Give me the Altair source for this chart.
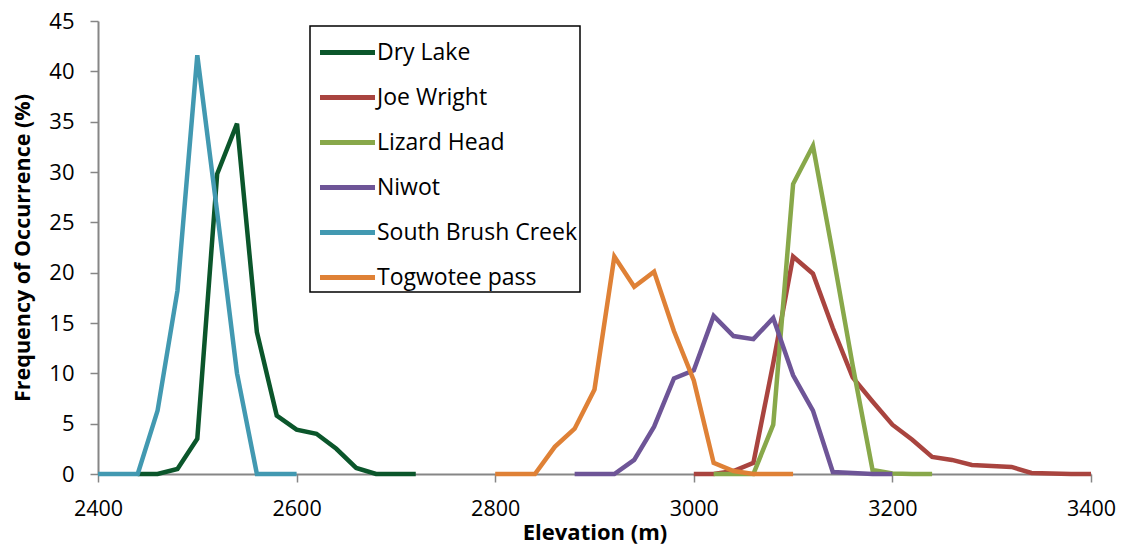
import altair as alt
import pandas as pd

series_names = ["Dry Lake", "Joe Wright", "Lizard Head", "Niwot", "South Brush Creek", "Togwotee pass"]
colors = ["#0b562b", "#a9443f", "#88a84a", "#6e5597", "#4299b1", "#df8136"]

dry_lake_x = [2440, 2460, 2480, 2500, 2520, 2540, 2560, 2580, 2600, 2620, 2640, 2660, 2680, 2700, 2720]
dry_lake_y = [0, 0, 0.5, 3.5, 29.8, 34.8, 14.1, 5.8, 4.4, 4.0, 2.5, 0.6, 0, 0, 0]

joe_wright_x = [3000, 3020, 3040, 3060, 3080, 3100, 3120, 3140, 3160, 3180, 3200, 3220, 3240, 3260, 3280,
                3300, 3320, 3340, 3360, 3380, 3400]
joe_wright_y = [0, 0, 0.3, 1.1, 11.0, 21.6, 19.9, 14.5, 9.6, 7.2, 4.9, 3.4, 1.7, 1.4, 0.9,
                0.8, 0.7, 0.1, 0.05, 0, 0]

lizard_head_x = [3020, 3040, 3060, 3080, 3100, 3120, 3140, 3160, 3180, 3200, 3220, 3240]
lizard_head_y = [0, 0, 0, 4.9, 28.8, 32.6, 21.9, 10.8, 0.4, 0.05, 0, 0]

niwot_x = [2880, 2900, 2920, 2940, 2960, 2980, 3000, 3020, 3040, 3060, 3080, 3100, 3120, 3140, 3160, 3180, 3200]
niwot_y = [0, 0, 0, 1.4, 4.7, 9.5, 10.3, 15.7, 13.7, 13.4, 15.5, 9.8, 6.3, 0.2, 0.1, 0, 0]

sbc_x = [2400, 2420, 2440, 2460, 2480, 2500, 2520, 2540, 2560, 2580, 2600]
sbc_y = [0, 0, 0, 6.3, 18.2, 41.6, 26.0, 10.0, 0, 0, 0]

togwotee_x = [2800, 2820, 2840, 2860, 2880, 2900, 2920, 2940, 2960, 2980, 3000, 3020, 3040, 3060, 3080, 3100]
togwotee_y = [0, 0, 0, 2.7, 4.5, 8.4, 21.6, 18.6, 20.1, 14.2, 9.3, 1.1, 0.3, 0, 0, 0]

x_ticks = [2400, 2600, 2800, 3000, 3200, 3400]
y_ticks = [0, 5, 10, 15, 20, 25, 30, 35, 40, 45]

all_x = [dry_lake_x, joe_wright_x, lizard_head_x, niwot_x, sbc_x, togwotee_x]
all_y = [dry_lake_y, joe_wright_y, lizard_head_y, niwot_y, sbc_y, togwotee_y]

rows = []
for name, xs, ys in zip(series_names, all_x, all_y):
    for i, (x, y) in enumerate(zip(xs, ys)):
        rows.append({"Site": name, "Elevation": x, "Freq": y, "order": i})
df = pd.DataFrame(rows)

font = "Open Sans"

chart = alt.Chart(df).mark_line(strokeWidth=4.5, strokeJoin="miter", strokeCap="butt").encode(
    x=alt.X("Elevation:Q", title="Elevation (m)",
            scale=alt.Scale(domain=[2400, 3400], nice=False, zero=False),
            axis=alt.Axis(values=x_ticks, grid=False, format="d", labelFlush=False,
                          labelFontSize=21.5, labelPadding=16, titlePadding=3, titleFontSize=22)),
    y=alt.Y("Freq:Q", title="Frequency of Occurrence (%)",
            scale=alt.Scale(domain=[0, 45], nice=False),
            axis=alt.Axis(values=y_ticks, grid=False, labelFlush=False,
                          labelFontSize=22, labelPadding=16, titlePadding=14, titleFontSize=21.5)),
    color=alt.Color("Site:N", scale=alt.Scale(domain=series_names, range=colors), title=None,
                    legend=alt.Legend(orient="none", legendX=212, legendY=5)),
    order="order:Q",
).properties(
    width=993, height=453,
    padding={"left": 90, "top": 13, "right": 25, "bottom": 72},
    autosize=alt.AutoSizeParams(type="none"),
).configure_view(stroke=None).configure_axis(
    domainColor="#868686", domainWidth=2, tickColor="#868686", tickWidth=1.5, tickSize=8,
    labelFont=font, labelColor="#000000",
    titleFont=font, titleFontWeight="bold", titleColor="#000000",
).configure_legend(
    strokeColor="black", strokeWidth=1.5, padding=2, fillColor="white",
    symbolType="M-1.25,0H1.25", symbolSize=1936, symbolStrokeWidth=5, symbolOffset=11,
    labelFont=font, labelFontSize=23, labelColor="black", labelOffset=5, rowPadding=8,
    labelLimit=400,
)

chart.save("out.html", embed_options={"renderer": "svg", "actions": False})
